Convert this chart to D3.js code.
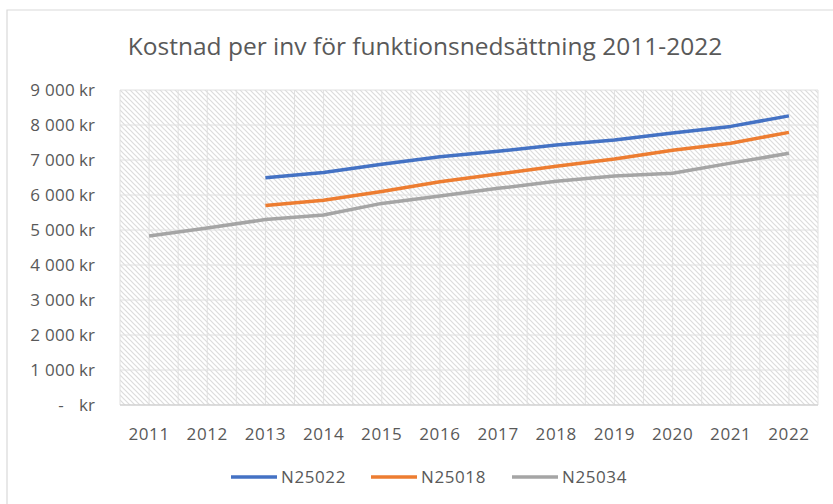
<!DOCTYPE html>
<html>
<head>
<meta charset="utf-8">
<script src="https://cdn.jsdelivr.net/npm/d3@7"></script>
<style>
  body { margin: 0; background: #fff; }
  text { font-family: "Open Sans", sans-serif; fill: #595959; }
</style>
</head>
<body>
<div id="chart"></div>
<script>
'use strict'

// data (kr per inv)
var years = ['2011','2012','2013','2014','2015','2016','2017','2018','2019','2020','2021','2022'];
var n25022 = [null, null, 6490, 6640, 6880, 7090, 7250, 7430, 7570, 7770, 7960, 8260];
var n25018 = [null, null, 5700, 5850, 6100, 6380, 6600, 6820, 7030, 7280, 7480, 7790];
var n25034 = [4830, 5060, 5300, 5430, 5760, 5970, 6190, 6390, 6540, 6620, 6910, 7190];
var seriesNames = ['N25022', 'N25018', 'N25034'];
var yTicks = [0, 1000, 2000, 3000, 4000, 5000, 6000, 7000, 8000, 9000];
var title = 'Kostnad per inv för funktionsnedsättning 2011-2022';

var colors = ['#4472C4', '#ED7D31', '#A5A5A5'];
var allSeries = [n25022, n25018, n25034];

const W = 833, H = 504;
const plot = { left: 120, right: 818, top: 90, bottom: 405 };

var svg = d3.select('#chart').append('svg')
  .attr('width', W)
  .attr('height', H);

// hatched fill of the plot area
var pat = svg.append('defs').append('pattern')
  .attr('id', 'hatch')
  .attr('patternUnits', 'userSpaceOnUse')
  .attr('width', 5)
  .attr('height', 5);
pat.append('rect').attr('width', 5).attr('height', 5).attr('fill', '#fff');
pat.append('path')
  .attr('d', 'M-1,-1 L6,6 M-1,4 L1,6 M4,-1 L6,1')
  .attr('stroke', '#dcdcdc')
  .attr('stroke-width', 1.2);

// outer chart border (only top and left are in view)
svg.append('path')
  .attr('d', 'M7,' + H + ' L7,10 L' + W + ',10')
  .attr('fill', 'none')
  .attr('stroke', '#d9d9d9')
  .attr('stroke-width', 1.2);

var xScale = d3.scaleBand()
  .domain(years)
  .range([plot.left, plot.right]);
var bw = xScale.bandwidth();

var yScale = d3.scaleLinear()
  .domain([0, 9000])
  .range([plot.bottom, plot.top]);

svg.append('rect')
  .attr('x', plot.left)
  .attr('y', plot.top)
  .attr('width', plot.right - plot.left)
  .attr('height', plot.bottom - plot.top)
  .attr('fill', 'url(#hatch)');

// gridlines: vertical at band edges and centres, horizontal at ticks
var vLines = [];
years.forEach(function(y) {
  vLines.push(xScale(y), xScale(y) + bw / 2);
});
vLines.push(plot.right);

var grid = svg.append('g');
grid.selectAll('.vg')
  .data(vLines)
  .enter().append('line')
  .attr('x1', function(d){ return d; })
  .attr('x2', function(d){ return d; })
  .attr('y1', plot.top)
  .attr('y2', plot.bottom)
  .attr('stroke', '#e0e0e0')
  .attr('stroke-width', 1);

grid.selectAll('.hg')
  .data(yTicks)
  .enter().append('line')
  .attr('x1', plot.left)
  .attr('x2', plot.right)
  .attr('y1', function(d){ return yScale(d); })
  .attr('y2', function(d){ return yScale(d); })
  .attr('stroke', function(d){ return d == 0 ? '#d0d0d0' : '#e0e0e0'; })
  .attr('stroke-width', function(d){ return d == 0 ? 1.5 : 1; });

// y labels, accounting style: number right aligned then "kr"
var fmt = function(v) {
  return d3.format(',')(v).replace(/,/g, ' ');
};
var yLab = svg.append('g');
yLab.selectAll('.num')
  .data(yTicks)
  .enter().append('text')
  .attr('x', function(d){ return d == 0 ? 64 : 75; })
  .attr('y', function(d){ return yScale(d); })
  .attr('dy', '0.36em')
  .style('text-anchor', 'end')
  .style('font-size', '17px')
  .style('letter-spacing', '0.3px')
  .text(function(d){ return d == 0 ? '-' : fmt(d); });
yLab.selectAll('.kr')
  .data(yTicks)
  .enter().append('text')
  .attr('x', 79)
  .attr('y', function(d){ return yScale(d); })
  .attr('dy', '0.36em')
  .style('font-size', '17px')
  .text('kr');

// x labels
svg.append('g').selectAll('text')
  .data(years)
  .enter().append('text')
  .attr('x', function(d){ return xScale(d) + bw / 2; })
  .attr('y', 440)
  .style('text-anchor', 'middle')
  .style('font-size', '17px')
  .style('letter-spacing', '0.6px')
  .text(function(d){ return d; });

// lines
var line = d3.line()
  .defined(function(d){ return d != null; })
  .x(function(d, i){ return xScale(years[i]) + bw / 2; })
  .y(function(d){ return yScale(d); });

svg.append('g').selectAll('path')
  .data(allSeries)
  .enter().append('path')
  .attr('d', line)
  .attr('fill', 'none')
  .attr('stroke', function(d, i){ return colors[i]; })
  .attr('stroke-width', 3.5)
  .attr('stroke-linejoin', 'round');

// title
svg.append('text')
  .attr('x', 425)
  .attr('y', 55)
  .style('text-anchor', 'middle')
  .style('font-size', '24.5px')
  .text(title);

// legend
var legX = [231, 371, 512];
var leg = svg.append('g').selectAll('g')
  .data(seriesNames)
  .enter().append('g')
  .attr('transform', function(d, i){ return 'translate(' + legX[i] + ',477)'; });
leg.append('line')
  .attr('x1', 0).attr('x2', 46)
  .attr('stroke', function(d, i){ return colors[i]; })
  .attr('stroke-width', 3.5);
leg.append('text')
  .attr('x', 50)
  .attr('dy', '0.36em')
  .style('font-size', '17px')
  .style('letter-spacing', '0.6px')
  .text(function(d){ return d; });
</script>
</body>
</html>
